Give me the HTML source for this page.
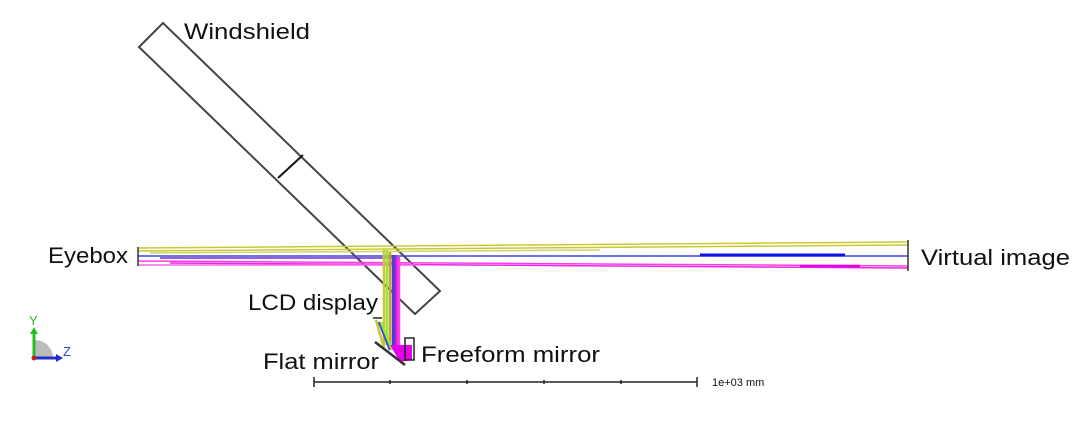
<!DOCTYPE html>
<html><head><meta charset="utf-8"><style>
html,body{margin:0;padding:0;background:#fff;}
svg{display:block}
text{font-family:"Liberation Sans","DejaVu Sans",sans-serif;fill:#111}
</style></head><body>
<svg width="1080" height="426" viewBox="0 0 1080 426" xmlns="http://www.w3.org/2000/svg">
<g stroke="#444" stroke-width="2" fill="none">
<polygon points="139,47 163,23 440,291 415,314"/>
<line x1="278" y1="178" x2="303" y2="155" stroke="#111"/>
</g>
<g stroke-width="1.5" fill="none">
<line x1="138" y1="248" x2="908" y2="242" stroke="#c8c832"/>
<line x1="138" y1="251" x2="908" y2="245" stroke="#c8c832"/>
<line x1="150" y1="253" x2="600" y2="250" stroke="#d2d26e"/>
<line x1="138" y1="256" x2="908" y2="256" stroke="#3c46dc"/>
<line x1="700" y1="255" x2="845" y2="255" stroke="#0a14e6" stroke-width="3"/>
<line x1="160" y1="258" x2="400" y2="258" stroke="#7a2ad0"/>
<line x1="138" y1="261" x2="908" y2="266" stroke="#ff3ce6"/>
<line x1="170" y1="263" x2="908" y2="268" stroke="#e628e6"/>
<line x1="138" y1="265" x2="420" y2="265" stroke="#ff64f0"/>
<line x1="800" y1="266" x2="860" y2="266" stroke="#e600e6" stroke-width="2.5"/>
</g>
<g stroke-width="2.5" fill="none">
<line x1="384" y1="250" x2="384" y2="345" stroke="#c8c832"/>
<line x1="387" y1="250" x2="387" y2="345" stroke="#96e632"/>
<line x1="390" y1="252" x2="390" y2="348" stroke="#d2a020"/>
<line x1="393" y1="255" x2="393" y2="350" stroke="#3c46dc"/>
<line x1="395" y1="255" x2="395" y2="350" stroke="#7a2ad0"/>
<line x1="397" y1="257" x2="397" y2="352" stroke="#e628e6"/>
<line x1="399" y1="258" x2="399" y2="355" stroke="#ff3ce6"/>
<line x1="376" y1="320" x2="384" y2="348" stroke="#c8c832"/>
<line x1="379" y1="322" x2="390" y2="350" stroke="#3c46dc"/>
<line x1="381" y1="322" x2="392" y2="350" stroke="#96e632"/>
</g>
<polygon points="390,345 412,345 412,360 400,362" fill="#e600e6"/>
<rect x="405" y="338" width="9" height="22" fill="none" stroke="#222" stroke-width="1.5"/>
<line x1="375" y1="342" x2="405" y2="365" stroke="#333" stroke-width="2.5"/>
<line x1="373" y1="318" x2="382" y2="318" stroke="#222" stroke-width="1.5"/>
<line x1="138" y1="247" x2="138" y2="266" stroke="#333" stroke-width="1.5"/>
<line x1="908" y1="240" x2="908" y2="271" stroke="#333" stroke-width="1.5"/>
<text x="184" y="39" font-size="22" textLength="126" lengthAdjust="spacingAndGlyphs">Windshield</text>
<text x="48" y="263" font-size="22" textLength="80" lengthAdjust="spacingAndGlyphs">Eyebox</text>
<text x="921" y="265" font-size="22" textLength="149" lengthAdjust="spacingAndGlyphs">Virtual image</text>
<text x="248" y="310" font-size="22" textLength="130" lengthAdjust="spacingAndGlyphs">LCD display</text>
<text x="263" y="369" font-size="22" textLength="116" lengthAdjust="spacingAndGlyphs">Flat mirror</text>
<text x="421" y="362" font-size="22" textLength="179" lengthAdjust="spacingAndGlyphs">Freeform mirror</text>
<g stroke="#222" stroke-width="1.5">
<line x1="314" y1="382" x2="697" y2="382"/>
<line x1="314" y1="377" x2="314" y2="387"/>
<line x1="697" y1="377" x2="697" y2="387"/>
<line x1="390" y1="380" x2="390" y2="384"/>
<line x1="467" y1="380" x2="467" y2="384"/>
<line x1="544" y1="380" x2="544" y2="384"/>
<line x1="621" y1="380" x2="621" y2="384"/>
</g>
<text x="712" y="386" font-size="11">1e+03 mm</text>
<path d="M35,358 L35,340 A18,18 0 0 1 53,358 Z" fill="#bbb"/>
<line x1="34" y1="358" x2="34" y2="332" stroke="#20c020" stroke-width="3"/>
<polygon points="30,334 38,334 34,327" fill="#20c020"/>
<line x1="34" y1="358" x2="58" y2="358" stroke="#2030d0" stroke-width="3"/>
<polygon points="56,354 56,362 63,358" fill="#2030d0"/>
<circle cx="34" cy="358" r="2.5" fill="#c02020"/>
<text x="29" y="325" font-size="13" style="fill:#20c020">Y</text>
<text x="63" y="356" font-size="13" style="fill:#3040d0">Z</text>
</svg>
</body></html>
